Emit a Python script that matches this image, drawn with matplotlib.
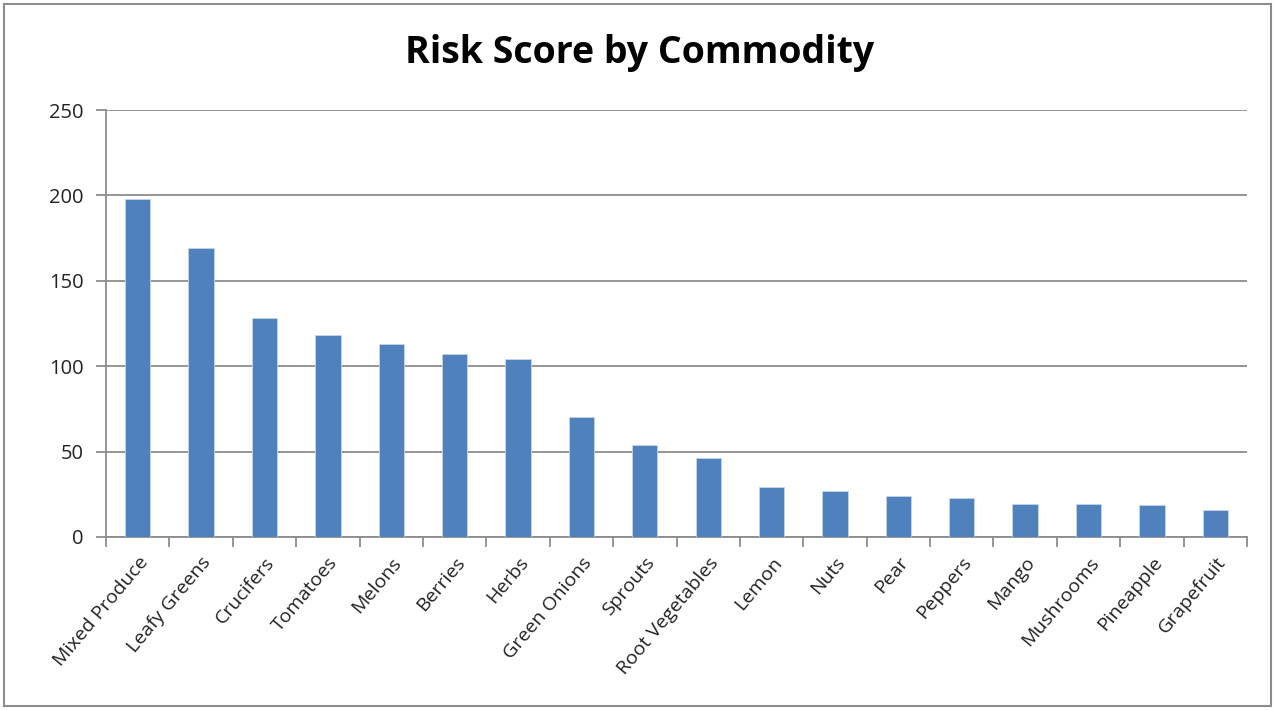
import matplotlib.pyplot as plt
from matplotlib.patches import Rectangle

commodities = ['Mixed Produce', 'Leafy Greens', 'Crucifers', 'Tomatoes', 'Melons',
               'Berries', 'Herbs', 'Green Onions', 'Sprouts', 'Root Vegetables',
               'Lemon', 'Nuts', 'Pear', 'Peppers', 'Mango', 'Mushrooms',
               'Pineapple', 'Grapefruit']
risk_score = [198, 169, 128, 118, 113, 107, 104, 70, 54, 46,
              29, 27, 24, 23, 19.5, 19.5, 18.5, 16]

plt.rcParams['font.family'] = ['Open Sans', 'DejaVu Sans']

fig = plt.figure(figsize=(12.75, 7.1), dpi=100)
ax = fig.add_axes([106 / 1275, 1 - 537 / 710, 1141 / 1275, 427 / 710])

x = range(len(commodities))
ax.bar(x, risk_score, width=0.4, color='#4f81bd', edgecolor='#c5d5ea', linewidth=0.6, zorder=3)

ax.set_xlim(-0.5, len(commodities) - 0.5)
ax.set_ylim(0, 250)
ax.set_yticks([0, 50, 100, 150, 200, 250])
ax.yaxis.grid(True, color='#8c8c8c', linewidth=1.3)
ax.set_axisbelow(True)

ax.set_xticks([i - 0.5 for i in range(len(commodities) + 1)], minor=False)
ax.set_xticklabels([])
ax.set_xticks(list(x), minor=True)
ax.set_xticklabels(commodities, minor=True, rotation=50, ha='right', va='top',
                   rotation_mode='anchor', fontsize=14, color='#222222')
ax.tick_params(axis='x', which='minor', length=0, pad=12)
ax.tick_params(axis='x', which='major', length=7, color='#8c8c8c', width=1.3)
ax.tick_params(axis='y', length=7, color='#8c8c8c', width=1.3, labelsize=14.5,
               labelcolor='#222222', pad=9)

for side in ['top', 'right']:
    ax.spines[side].set_visible(False)
for side in ['left', 'bottom']:
    ax.spines[side].set_color('#8c8c8c')
    ax.spines[side].set_linewidth(1.3)

fig.text(0.502, 0.926, 'Risk Score by Commodity', ha='center', va='center',
         fontsize=27, fontweight='bold', color='black')

fig.patches.append(Rectangle((0.003, 0.005), 0.994, 0.99, transform=fig.transFigure,
                             fill=False, edgecolor='#8c8c8c', linewidth=1.5))

fig.savefig('out.png', dpi=100)
